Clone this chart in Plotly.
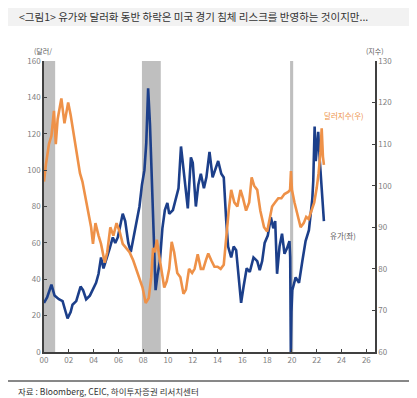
import plotly.graph_objects as go

# ---- data ----
oil_x = [2000.00, 2000.25, 2000.60, 2000.85, 2001.20, 2001.50, 2001.75, 2001.90, 2002.15, 2002.30,
         2002.60, 2002.95, 2003.15, 2003.40, 2003.70, 2003.95, 2004.20, 2004.40, 2004.60, 2004.80,
         2005.00, 2005.30, 2005.55, 2005.75, 2005.95, 2006.15, 2006.35, 2006.55, 2006.80, 2007.00,
         2007.25, 2007.45, 2007.70, 2007.90, 2008.10, 2008.25, 2008.40, 2008.55, 2008.70, 2008.85,
         2009.00, 2009.15, 2009.35, 2009.55, 2009.75, 2009.95, 2010.10, 2010.40, 2010.65, 2010.85,
         2011.05, 2011.30, 2011.45, 2011.60, 2011.85, 2012.00, 2012.25, 2012.45, 2012.65, 2012.90,
         2013.10, 2013.35, 2013.60, 2013.80, 2014.05, 2014.30, 2014.50, 2014.70, 2014.85, 2015.10,
         2015.30, 2015.50, 2015.70, 2015.90, 2016.10, 2016.35, 2016.60, 2016.90, 2017.20, 2017.40,
         2017.60, 2017.80, 2018.05, 2018.30, 2018.50, 2018.65, 2018.80, 2019.00, 2019.20, 2019.40,
         2019.60, 2019.80, 2019.86, 2019.91, 2019.96, 2020.03, 2020.30, 2020.57, 2020.84, 2021.10,
         2021.37, 2021.50, 2021.64, 2021.72, 2021.83, 2021.92, 2022.02, 2022.12, 2022.25, 2022.40,
         2022.50, 2022.58]
oil_v = [27, 30, 37, 31, 29, 28, 22, 18.5, 22, 26,
         28, 36, 34, 29, 31, 35, 38, 43, 52, 46,
         50, 57, 63, 60, 63, 70, 76, 72, 60, 55,
         64, 72, 80, 92, 100, 115, 145, 125, 95, 55,
         34, 42, 50, 68, 78, 82, 76, 78, 85, 90,
         113, 98, 88, 79, 107, 104, 80, 92, 98, 90,
         96, 110, 96, 100, 105, 98, 96, 72, 58, 52,
         58, 56, 42, 27, 36, 46, 44, 52, 50, 45,
         50, 60, 64, 74, 68, 72, 43, 58, 65, 54,
         57, 61, 52, 0, 22, 34, 41, 38, 50, 61,
         67, 76, 84, 94, 124, 105, 112, 121, 105, 90,
         80, 72]

dxy_x = [2000.00, 2000.15, 2000.40, 2000.60, 2000.80, 2000.95, 2001.10, 2001.40, 2001.65, 2001.95,
         2002.15, 2002.35, 2002.60, 2002.90, 2003.10, 2003.35, 2003.55, 2003.80, 2003.95, 2004.15,
         2004.40, 2004.60, 2004.90, 2005.10, 2005.35, 2005.60, 2005.85, 2006.10, 2006.35, 2006.60,
         2006.90, 2007.20, 2007.45, 2007.70, 2007.95, 2008.20, 2008.45, 2008.65, 2008.80, 2008.95,
         2009.10, 2009.30, 2009.50, 2009.70, 2009.90, 2010.10, 2010.30, 2010.50, 2010.75, 2011.00,
         2011.25, 2011.45, 2011.70, 2011.95, 2012.15, 2012.40, 2012.65, 2012.85, 2013.05, 2013.25,
         2013.50, 2013.75, 2014.00, 2014.25, 2014.50, 2014.70, 2014.90, 2015.10, 2015.35, 2015.60,
         2015.85, 2016.05, 2016.30, 2016.55, 2016.75, 2016.95, 2017.20, 2017.45, 2017.75, 2018.00,
         2018.20, 2018.40, 2018.65, 2018.90, 2019.15, 2019.40, 2019.70, 2019.85, 2019.92, 2020.00,
         2020.20, 2020.45, 2020.70, 2020.95, 2021.15, 2021.35, 2021.55, 2021.80, 2022.00, 2022.15,
         2022.30, 2022.40, 2022.50, 2022.58]
dxy_v = [101, 105, 110, 112, 118, 110, 116, 121, 115, 120,
         117, 113, 108, 103, 101, 97, 94, 90, 86, 91,
         88, 86, 81.5, 84, 90, 88, 91, 89, 86, 85,
         84, 82, 80, 78, 75.5, 71.8, 73, 78, 85, 84,
         87, 83, 79, 75.5, 77, 80, 86.5, 84, 79, 78,
         74, 75, 80, 79, 80, 83.5, 80, 80, 82, 83.7,
         82, 80.5, 80.5, 80, 81, 87.7, 94, 99, 96, 95,
         99, 97, 94, 96, 102, 100, 99, 94, 90, 89,
         92, 95, 96, 97, 97, 98, 98.5, 99, 103.5, 99,
         96, 93, 90, 91, 92.5, 92, 94, 96, 99.5, 103,
         108, 113.8, 107, 105]

recession_start = [2000.0, 2007.9, 2019.85]
recession_end = [2000.9, 2009.42, 2020.1]

x_tickvals = [2000 + 2 * i for i in range(14)]
x_ticktext = ["00", "02", "04", "06", "08", "10", "12", "14", "16", "18", "20", "22", "24", "26"]

FONT = "Noto Sans CJK KR"
AX = "#404040"
TICKC = "#808080"

# page body has an 8px margin; lay out in page pixels and convert
OFF = 8
W, H = 417 - OFF, 398 - OFF
PL, PR, PT, PB = 44, 375, 61, 352          # plot area in page pixels
L, R, T, B = PL - OFF, W - (PR - OFF), PT - OFF, H - (PB - OFF)
pw, ph = W - L - R, H - T - B


def px(xpage):
    return (xpage - OFF - L) / pw


def py(ypage):
    return (H - B - (ypage - OFF)) / ph


fig = go.Figure()
fig.add_trace(go.Scatter(x=oil_x, y=oil_v, mode="lines", name="유가(좌)",
                         line=dict(color="#1c3f8a", width=2.6), yaxis="y"))
fig.add_trace(go.Scatter(x=dxy_x, y=dxy_v, mode="lines", name="달러지수(우)",
                         line=dict(color="#ee9148", width=2.6), yaxis="y2"))

for s, e in zip(recession_start, recession_end):
    fig.add_shape(type="rect", xref="x", yref="paper", x0=s, x1=e, y0=0, y1=1,
                  fillcolor="#bfbfbf", line=dict(width=0), layer="below")
fig.add_shape(type="rect", xref="paper", yref="paper", x0=px(8), x1=px(409), y0=py(26), y1=py(8),
              fillcolor="#f2f2f2", line=dict(width=0), layer="below")
fig.add_shape(type="line", xref="paper", yref="paper", x0=px(8), x1=px(409), y0=py(5), y1=py(5),
              line=dict(color="#111111", width=1.5))
fig.add_shape(type="line", xref="paper", yref="paper", x0=px(8), x1=px(409), y0=py(381), y1=py(381),
              line=dict(color="#111111", width=1))

ann = [
    dict(x=px(17), y=py(16.5), text="<그림1> 유가와 달러화 동반 하락은 미국 경기 침체 리스크를 반영하는 것이지만...",
         xanchor="left", yanchor="middle", font=dict(size=10.5, color="#333333")),
    dict(x=px(16), y=py(391), text="자료 : Bloomberg, CEIC, 하이투자증권 리서치센터",
         xanchor="left", yanchor="middle", font=dict(size=8.5, color="#333333")),
    dict(x=px(32), y=py(51), text="(달러/", xanchor="left", yanchor="middle",
         font=dict(size=7, color="#595959")),
    dict(x=px(386), y=py(51), text="(지수)", xanchor="right", yanchor="middle",
         font=dict(size=7, color="#595959")),
    dict(x=px(322), y=py(115), text="달러지수(우)", xanchor="left", yanchor="middle",
         font=dict(size=7.5, color="#ee9148")),
    dict(x=px(328), y=py(235), text="유가(좌)", xanchor="left", yanchor="middle",
         font=dict(size=7.5, color="#595959")),
]
for a in ann:
    a.update(xref="paper", yref="paper", showarrow=False)

fig.update_layout(
    width=W, height=H,
    margin=dict(l=L, r=R, t=T, b=B),
    paper_bgcolor="white", plot_bgcolor="white",
    font=dict(family=FONT, size=8, color=TICKC),
    showlegend=False,
    annotations=ann,
    xaxis=dict(range=[2000, 2026.7], tickvals=x_tickvals, ticktext=x_ticktext,
               showgrid=False, zeroline=False, showline=True, linecolor=AX, linewidth=1.5,
               ticks="inside", ticklen=3, tickcolor=AX, tickfont=dict(size=8, color=TICKC)),
    yaxis=dict(range=[0, 160], dtick=20, showgrid=False, zeroline=False, showline=True,
               linecolor=AX, linewidth=1.5, ticks="inside", ticklen=3, tickcolor=AX,
               tickfont=dict(size=8, color=TICKC)),
    yaxis2=dict(range=[60, 130], dtick=10, overlaying="y", side="right", showgrid=False,
                zeroline=False, showline=True, linecolor=AX, linewidth=1.5, ticks="inside",
                ticklen=3, tickcolor=AX, tickfont=dict(size=8, color=TICKC)),
)

fig.write_html("out.html")
